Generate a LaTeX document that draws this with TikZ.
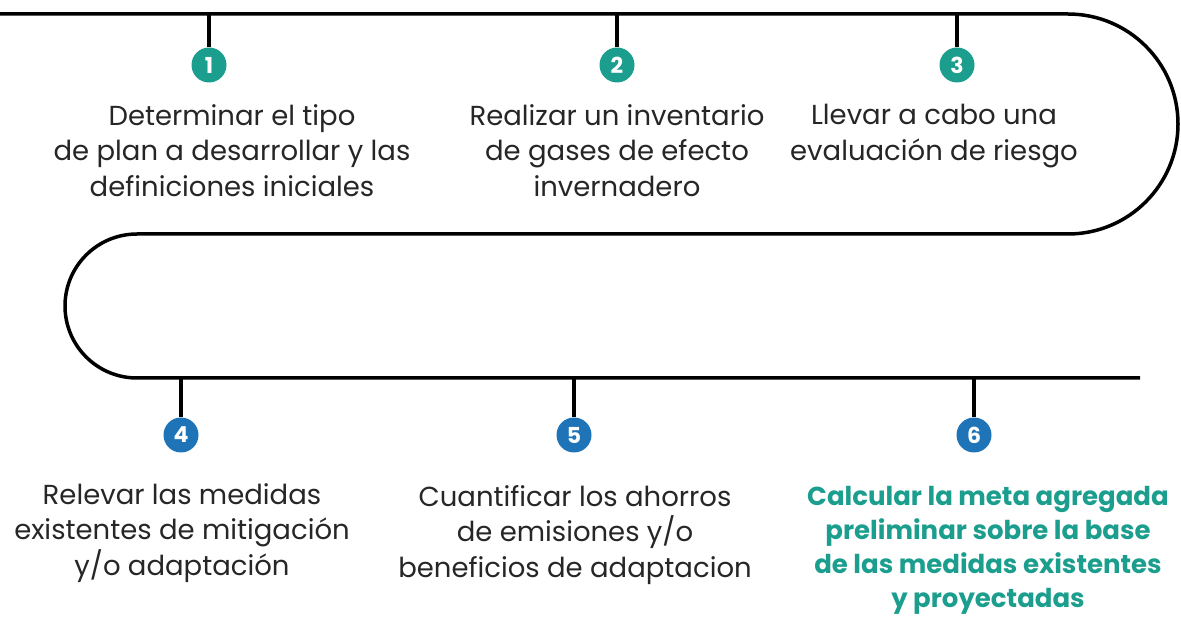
\documentclass[tikz,border=0pt]{standalone}
\usepackage{fontspec}
\setmainfont{Poppins}
\definecolor{tealc}{HTML}{1B9E8D}
\definecolor{bluec}{HTML}{1F74B8}
\definecolor{txt}{HTML}{262626}
\begin{document}
\begin{tikzpicture}[x=1pt,y=-1pt,
  numc/.style={circle,minimum size=35pt,inner sep=0pt,text=white,font=\fontsize{22}{22}\selectfont\bfseries},
  stem/.style={line width=3.5pt,draw=black},
  road/.style={line width=3.5pt,draw=black},
  lbl/.style={align=center,text=txt,inner sep=0pt,font=\fontsize{27.5}{35.5}\selectfont,anchor=north},
  lblb/.style={align=center,text=tealc,inner sep=0pt,font=\fontsize{26}{34}\selectfont\bfseries,anchor=north}]
\useasboundingbox (0,0) rectangle (1181,617);
\draw[road] (0,14) -- (1068,14) arc[start angle=-90,end angle=90,radius=110] -- (137,234) arc[start angle=270,end angle=90,radius=72] -- (1140,378);
\coordinate (s1) at (209,14);
\coordinate (s2) at (617,14);
\coordinate (s3) at (957,14);
\coordinate (s4) at (181,378);
\coordinate (s5) at (574,378);
\coordinate (s6) at (974,378);
\node[numc,fill=tealc] (c1) at (209,65) {1};
\node[numc,fill=tealc] (c2) at (617,65) {2};
\node[numc,fill=tealc] (c3) at (957,65) {3};
\node[numc,fill=bluec] (c4) at (181,435) {4};
\node[numc,fill=bluec] (c5) at (574,435) {5};
\node[numc,fill=bluec] (c6) at (974,435) {6};
\foreach \i in {1,...,6} \draw[stem] (s\i) -- (c\i);
\node[lbl] (t1) at (232,104) {Determinar el tipo\\de plan a desarrollar y las\\definiciones iniciales};
\node[lbl] (t2) at (617,104) {Realizar un inventario\\de gases de efecto\\invernadero};
\node[lbl] (t3) at (934,104) {Llevar a cabo una\\evaluación de riesgo};
\node[lbl] (t4) at (182,483) {Relevar las medidas\\existentes de mitigación\\y/o adaptación};
\node[lbl] (t5) at (575,485) {Cuantificar los ahorros\\de emisiones y/o\\beneficios de adaptacion};
\node[lblb] (t6) at (988,486) {Calcular la meta agregada\\preliminar sobre la base\\de las medidas existentes\\y proyectadas};
\end{tikzpicture}
\end{document}
